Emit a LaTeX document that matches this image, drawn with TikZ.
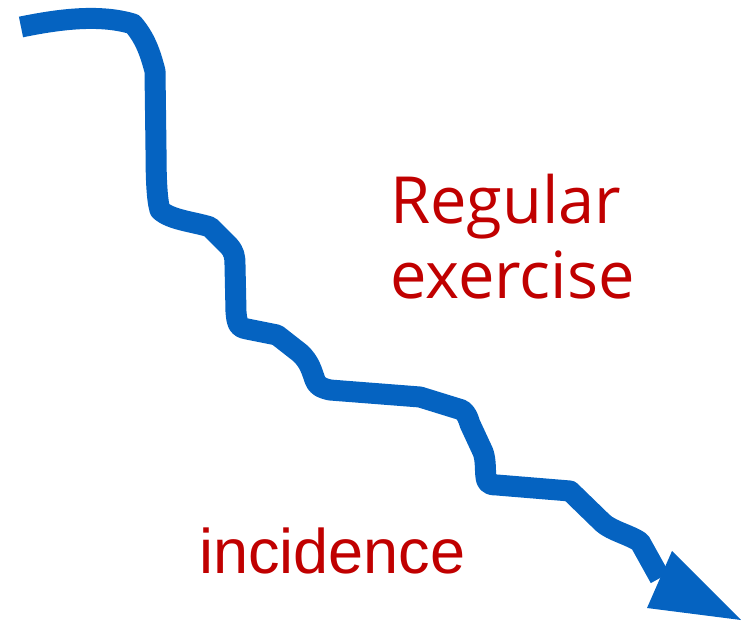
\documentclass[tikz,border=0pt]{standalone}
\usepackage{fontspec}
\setmainfont{Liberation Sans}
\newfontfamily\comicfont{Open Sans}
\definecolor{trendblue}{HTML}{0563C1}
\definecolor{labelred}{HTML}{C00000}
\begin{document}
\begin{tikzpicture}[x=1pt,y=-1pt,
  trend/.style={draw=trendblue,line width=21pt,line join=round},
  headshape/.style={fill=trendblue},
  comiclabel/.style={text=labelred,font=\comicfont\fontsize{65}{78}\selectfont,inner sep=0pt,anchor=base west},
  plainlabel/.style={text=labelred,font=\fontsize{63}{75}\selectfont,inner sep=0pt,anchor=base west}]
\useasboundingbox (0,0) rectangle (741,623);
\draw[trend] (21,27) .. controls (60,19) and (100,14) .. (133,24)
  .. controls (145,38) and (150,52) .. (155,71)
  -- (156,150) .. controls (156,180) and (157,200) .. (160,210)
  .. controls (170,220) and (195,222) .. (210,227)
  -- (229,246) .. controls (234,252) and (235,256) .. (235,265)
  -- (236,312) .. controls (237,326) and (240,328) .. (247,329)
  -- (277,335) -- (300,353) .. controls (310,362) and (312,372) .. (315,380)
  .. controls (318,387) and (322,388) .. (330,390)
  -- (420,397) -- (462,410) .. controls (467,414) and (468,418) .. (470,424)
  -- (483,452) .. controls (486,460) and (485,470) .. (486,477)
  .. controls (487,484) and (490,485) .. (497,485)
  -- (570,491) -- (603,523) .. controls (612,531) and (630,535) .. (640,542)
  -- (660,578);
\fill[headshape] (672,551) -- (741,620) -- (647,608) -- cycle;
\node[comiclabel] (reg) at (390,223) {Regular};
\node[comiclabel] (ex) at (390,298) {exercise};
\node[plainlabel] (inc) at (199,573) {incidence};
\end{tikzpicture}
\end{document}
